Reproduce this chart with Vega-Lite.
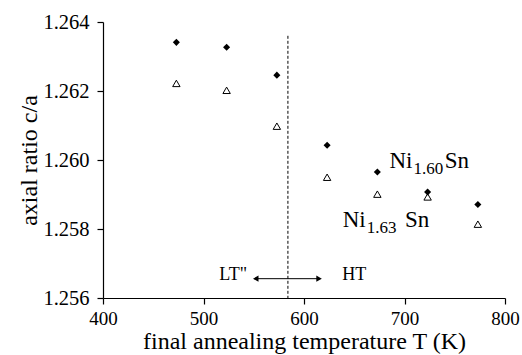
{
  "$schema": "https://vega.github.io/schema/vega-lite/v6.json",
  "width": 402,
  "height": 276,
  "autosize": {"type": "none"},
  "padding": {"left": 103, "top": 22, "right": 17, "bottom": 57},
  "background": "white",
  "config": {
    "view": {"stroke": null},
    "font": "Liberation Serif",
    "style": {
      "guide-label": {"font": "Liberation Serif", "fill": "black"},
      "guide-title": {"font": "Liberation Serif", "fill": "black", "fontWeight": "normal"}
    },
    "axis": {
      "grid": false,
      "domainColor": "black",
      "domainWidth": 1.2,
      "tickColor": "black",
      "tickWidth": 1.2,
      "tickSize": 6,
      "labelColor": "black",
      "titleColor": "black",
      "labelFont": "Liberation Serif",
      "titleFont": "Liberation Serif",
      "titleFontSize": 24,
      "titleFontWeight": "normal",
      "labelFlush": false
    }
  },
  "datasets": {
    "pts": [
      {"T": 473, "ratio": 1.26341, "sample": "Ni1.60Sn"},
      {"T": 523, "ratio": 1.26327, "sample": "Ni1.60Sn"},
      {"T": 573, "ratio": 1.26246, "sample": "Ni1.60Sn"},
      {"T": 623, "ratio": 1.26043, "sample": "Ni1.60Sn"},
      {"T": 673, "ratio": 1.25965, "sample": "Ni1.60Sn"},
      {"T": 723, "ratio": 1.25907, "sample": "Ni1.60Sn"},
      {"T": 773, "ratio": 1.25871, "sample": "Ni1.60Sn"},
      {"T": 473, "ratio": 1.26222, "sample": "Ni1.63Sn"},
      {"T": 523, "ratio": 1.26202, "sample": "Ni1.63Sn"},
      {"T": 573, "ratio": 1.26098, "sample": "Ni1.63Sn"},
      {"T": 623, "ratio": 1.2595, "sample": "Ni1.63Sn"},
      {"T": 673, "ratio": 1.25901, "sample": "Ni1.63Sn"},
      {"T": 723, "ratio": 1.25893, "sample": "Ni1.63Sn"},
      {"T": 773, "ratio": 1.25814, "sample": "Ni1.63Sn"}
    ],
    "vline": [{"T": 584, "top": 1.2636, "bottom": 1.256}],
    "arrow": [{"T1": 552, "T2": 615, "y": 1.25656}],
    "heads": [
      {"T": 552, "y": 1.25656, "side": "left"},
      {"T": 615, "y": 1.25656, "side": "right"}
    ],
    "regions": [
      {"T": 529.5, "y": 1.25652, "label": "LT\""},
      {"T": 650, "y": 1.25652, "label": "HT"}
    ],
    "mainText": [
      {"T": 685, "y": 1.25977, "label": "Ni"},
      {"T": 740, "y": 1.25977, "label": "Sn"},
      {"T": 638.5, "y": 1.25806, "label": "Ni"},
      {"T": 700.5, "y": 1.25806, "label": "Sn"}
    ],
    "subText": [
      {"T": 709, "y": 1.25959, "label": "1.60"},
      {"T": 662.5, "y": 1.25788, "label": "1.63"}
    ]
  },
  "layer": [
    {
      "data": {"name": "vline"},
      "mark": {"type": "rule", "color": "black", "strokeWidth": 1, "strokeDash": [3, 2]},
      "encoding": {
        "x": {"field": "T", "type": "quantitative", "scale": {"domain": [400, 800], "nice": false},
              "axis": {"values": [400, 500, 600, 700, 800], "title": "final annealing temperature T (K)", "labelPadding": 5.5, "titlePadding": 0.5, "labelFlush": false, "labelFontSize": 19}},
        "y": {"field": "top", "type": "quantitative", "scale": {"domain": [1.256, 1.264], "nice": false, "zero": false},
              "axis": {"values": [1.256, 1.258, 1.26, 1.262, 1.264], "format": ".3f", "title": "axial ratio c/a", "labelPadding": 8, "titlePadding": 1.5, "labelFontSize": 20.5}},
        "y2": {"field": "bottom"}
      }
    },
    {
      "data": {"name": "pts"},
      "transform": [{"filter": "datum.sample === 'Ni1.63Sn'"}],
      "mark": {"type": "point", "shape": "triangle-up", "fill": "white", "stroke": "black", "strokeWidth": 1, "size": 55, "opacity": 1},
      "encoding": {
        "x": {"field": "T", "type": "quantitative"},
        "y": {"field": "ratio", "type": "quantitative"}
      }
    },
    {
      "data": {"name": "pts"},
      "transform": [{"filter": "datum.sample === 'Ni1.60Sn'"}],
      "mark": {"type": "point", "shape": "diamond", "filled": true, "color": "black", "size": 50, "opacity": 1},
      "encoding": {
        "x": {"field": "T", "type": "quantitative"},
        "y": {"field": "ratio", "type": "quantitative"}
      }
    },
    {
      "data": {"name": "arrow"},
      "mark": {"type": "rule", "color": "black", "strokeWidth": 1},
      "encoding": {
        "x": {"field": "T1", "type": "quantitative"},
        "x2": {"field": "T2"},
        "y": {"field": "y", "type": "quantitative"}
      }
    },
    {
      "data": {"name": "heads"},
      "mark": {"type": "point", "filled": true, "color": "black", "size": 40, "opacity": 1},
      "encoding": {
        "x": {"field": "T", "type": "quantitative"},
        "y": {"field": "y", "type": "quantitative"},
        "shape": {"field": "side", "type": "nominal", "scale": {"domain": ["left", "right"], "range": ["triangle-left", "triangle-right"]}, "legend": null}
      }
    },
    {
      "data": {"name": "regions"},
      "mark": {"type": "text", "font": "Liberation Serif", "fontSize": 18, "color": "black", "align": "center", "baseline": "alphabetic"},
      "encoding": {
        "x": {"field": "T", "type": "quantitative"},
        "y": {"field": "y", "type": "quantitative"},
        "text": {"field": "label"}
      }
    },
    {
      "data": {"name": "mainText"},
      "mark": {"type": "text", "font": "Liberation Serif", "fontSize": 23, "color": "black", "align": "left", "baseline": "alphabetic"},
      "encoding": {
        "x": {"field": "T", "type": "quantitative"},
        "y": {"field": "y", "type": "quantitative"},
        "text": {"field": "label"}
      }
    },
    {
      "data": {"name": "subText"},
      "mark": {"type": "text", "font": "Liberation Serif", "fontSize": 17, "color": "black", "align": "left", "baseline": "alphabetic"},
      "encoding": {
        "x": {"field": "T", "type": "quantitative"},
        "y": {"field": "y", "type": "quantitative"},
        "text": {"field": "label"}
      }
    }
  ]
}
